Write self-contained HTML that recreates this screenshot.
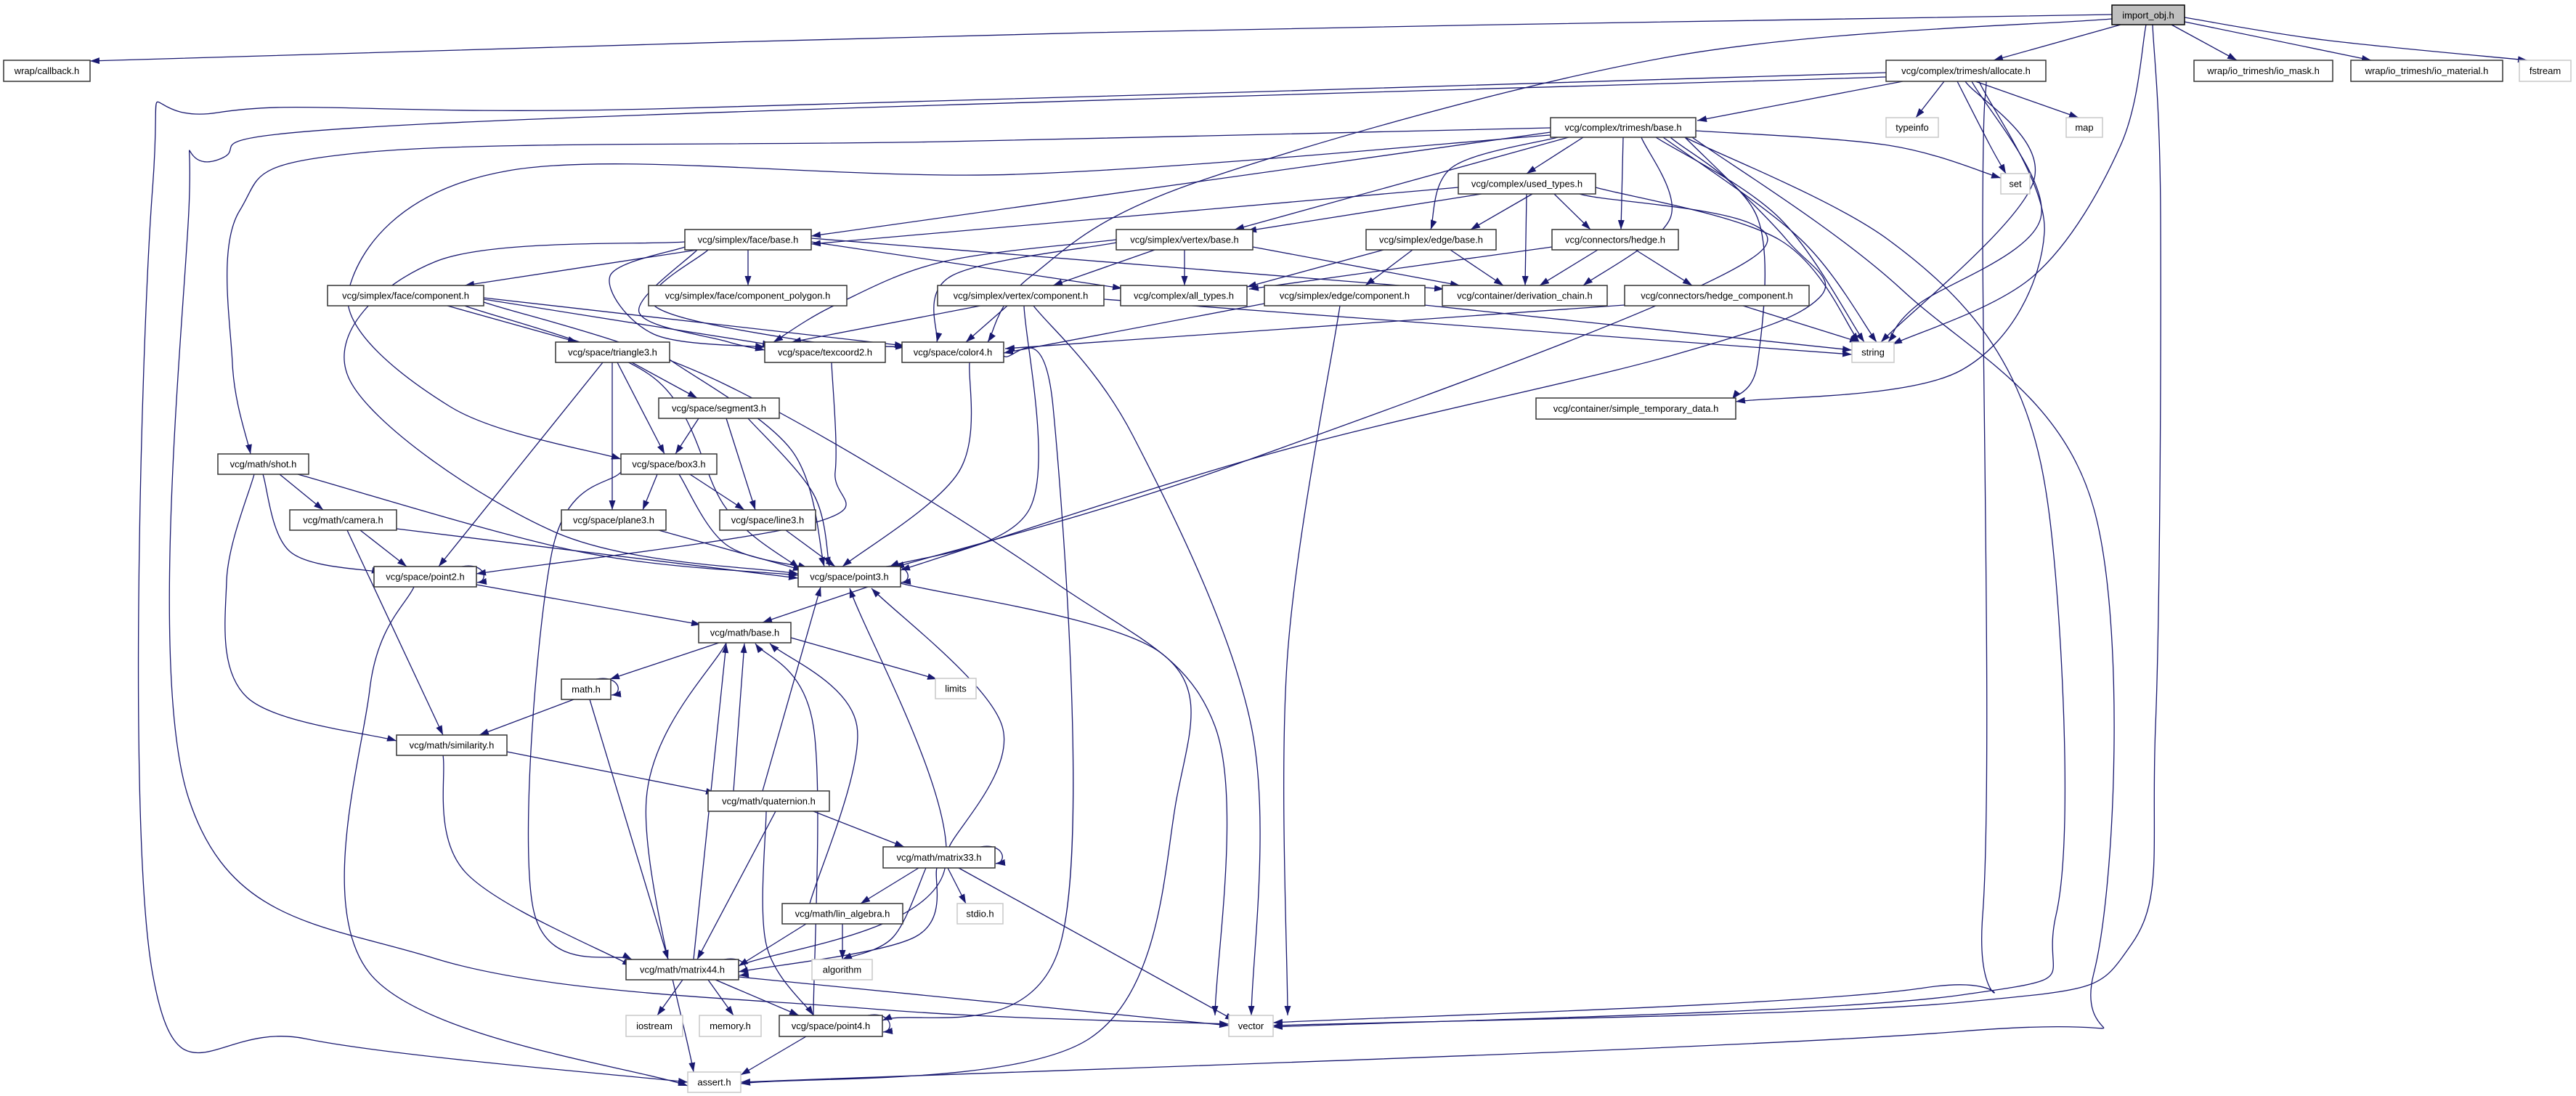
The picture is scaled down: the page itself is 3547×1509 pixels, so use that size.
<!DOCTYPE html>
<html><head><meta charset="utf-8">
<style>
html,body{margin:0;padding:0;background:#fff;}
svg{display:block;}
text{font-family:"Liberation Sans",sans-serif;font-size:13px;fill:#000;}
</style></head>
<body>
<svg id="g" xmlns="http://www.w3.org/2000/svg" width="3547" height="1509" viewBox="0 0 3547 1509">
<defs>
<marker id="a" viewBox="0 0 10 10" refX="10" refY="5" markerWidth="13" markerHeight="9" markerUnits="userSpaceOnUse" orient="auto" preserveAspectRatio="none"><path d="M0,0L10,5L0,10z" fill="#191970"/></marker>
</defs>
<rect width="3547" height="1509" fill="#fff"/>
<g id="edges" fill="none" stroke="#191970" stroke-width="1.3"></g>
<g id="nodes">
<rect x="2908" y="7" width="100" height="27" fill="#bfbfbf" stroke="#000" stroke-width="1.5"/><text x="2958" y="21" text-anchor="middle" dominant-baseline="central">import_obj.h</text>
<rect x="5" y="83" width="119" height="29" fill="#fff" stroke="#333" stroke-width="1.5"/><text x="64.5" y="97.5" text-anchor="middle" dominant-baseline="central">wrap/callback.h</text>
<rect x="2597" y="83" width="220" height="29" fill="#fff" stroke="#333" stroke-width="1.5"/><text x="2707" y="97.5" text-anchor="middle" dominant-baseline="central">vcg/complex/trimesh/allocate.h</text>
<rect x="3021" y="83" width="191" height="29" fill="#fff" stroke="#333" stroke-width="1.5"/><text x="3116.5" y="97.5" text-anchor="middle" dominant-baseline="central">wrap/io_trimesh/io_mask.h</text>
<rect x="3237" y="83" width="209" height="29" fill="#fff" stroke="#333" stroke-width="1.5"/><text x="3341.5" y="97.5" text-anchor="middle" dominant-baseline="central">wrap/io_trimesh/io_material.h</text>
<rect x="3469" y="83" width="71" height="29" fill="#fff" stroke="#c8c8c8" stroke-width="1.5"/><text x="3504.5" y="97.5" text-anchor="middle" dominant-baseline="central">fstream</text>
<rect x="2135" y="162" width="200" height="27" fill="#fff" stroke="#333" stroke-width="1.5"/><text x="2235" y="175.5" text-anchor="middle" dominant-baseline="central">vcg/complex/trimesh/base.h</text>
<rect x="2597" y="162" width="72" height="27" fill="#fff" stroke="#c8c8c8" stroke-width="1.5"/><text x="2633" y="175.5" text-anchor="middle" dominant-baseline="central">typeinfo</text>
<rect x="2845" y="162" width="50" height="27" fill="#fff" stroke="#c8c8c8" stroke-width="1.5"/><text x="2870" y="175.5" text-anchor="middle" dominant-baseline="central">map</text>
<rect x="2008" y="239" width="189" height="28" fill="#fff" stroke="#333" stroke-width="1.5"/><text x="2102.5" y="253" text-anchor="middle" dominant-baseline="central">vcg/complex/used_types.h</text>
<rect x="2755" y="239" width="40" height="28" fill="#fff" stroke="#c8c8c8" stroke-width="1.5"/><text x="2775" y="253" text-anchor="middle" dominant-baseline="central">set</text>
<rect x="943" y="316" width="174" height="28" fill="#fff" stroke="#333" stroke-width="1.5"/><text x="1030" y="330" text-anchor="middle" dominant-baseline="central">vcg/simplex/face/base.h</text>
<rect x="1537" y="316" width="188" height="28" fill="#fff" stroke="#333" stroke-width="1.5"/><text x="1631" y="330" text-anchor="middle" dominant-baseline="central">vcg/simplex/vertex/base.h</text>
<rect x="1881" y="316" width="179" height="28" fill="#fff" stroke="#333" stroke-width="1.5"/><text x="1970.5" y="330" text-anchor="middle" dominant-baseline="central">vcg/simplex/edge/base.h</text>
<rect x="2137" y="316" width="174" height="28" fill="#fff" stroke="#333" stroke-width="1.5"/><text x="2224" y="330" text-anchor="middle" dominant-baseline="central">vcg/connectors/hedge.h</text>
<rect x="451" y="393" width="215" height="28" fill="#fff" stroke="#333" stroke-width="1.5"/><text x="558.5" y="407" text-anchor="middle" dominant-baseline="central">vcg/simplex/face/component.h</text>
<rect x="893" y="393" width="273" height="28" fill="#fff" stroke="#333" stroke-width="1.5"/><text x="1029.5" y="407" text-anchor="middle" dominant-baseline="central">vcg/simplex/face/component_polygon.h</text>
<rect x="1291" y="393" width="229" height="28" fill="#fff" stroke="#333" stroke-width="1.5"/><text x="1405.5" y="407" text-anchor="middle" dominant-baseline="central">vcg/simplex/vertex/component.h</text>
<rect x="1543" y="393" width="174" height="28" fill="#fff" stroke="#333" stroke-width="1.5"/><text x="1630" y="407" text-anchor="middle" dominant-baseline="central">vcg/complex/all_types.h</text>
<rect x="1741" y="393" width="221" height="28" fill="#fff" stroke="#333" stroke-width="1.5"/><text x="1851.5" y="407" text-anchor="middle" dominant-baseline="central">vcg/simplex/edge/component.h</text>
<rect x="1986" y="393" width="227" height="28" fill="#fff" stroke="#333" stroke-width="1.5"/><text x="2099.5" y="407" text-anchor="middle" dominant-baseline="central">vcg/container/derivation_chain.h</text>
<rect x="2237" y="393" width="254" height="28" fill="#fff" stroke="#333" stroke-width="1.5"/><text x="2364" y="407" text-anchor="middle" dominant-baseline="central">vcg/connectors/hedge_component.h</text>
<rect x="765" y="471" width="157" height="28" fill="#fff" stroke="#333" stroke-width="1.5"/><text x="843.5" y="485" text-anchor="middle" dominant-baseline="central">vcg/space/triangle3.h</text>
<rect x="1053" y="471" width="166" height="28" fill="#fff" stroke="#333" stroke-width="1.5"/><text x="1136" y="485" text-anchor="middle" dominant-baseline="central">vcg/space/texcoord2.h</text>
<rect x="1242" y="471" width="140" height="28" fill="#fff" stroke="#333" stroke-width="1.5"/><text x="1312" y="485" text-anchor="middle" dominant-baseline="central">vcg/space/color4.h</text>
<rect x="2550" y="471" width="58" height="28" fill="#fff" stroke="#c8c8c8" stroke-width="1.5"/><text x="2579" y="485" text-anchor="middle" dominant-baseline="central">string</text>
<rect x="907" y="548" width="166" height="28" fill="#fff" stroke="#333" stroke-width="1.5"/><text x="990" y="562" text-anchor="middle" dominant-baseline="central">vcg/space/segment3.h</text>
<rect x="2115" y="548" width="275" height="29" fill="#fff" stroke="#333" stroke-width="1.5"/><text x="2252.5" y="562.5" text-anchor="middle" dominant-baseline="central">vcg/container/simple_temporary_data.h</text>
<rect x="300" y="625" width="125" height="28" fill="#fff" stroke="#333" stroke-width="1.5"/><text x="362.5" y="639" text-anchor="middle" dominant-baseline="central">vcg/math/shot.h</text>
<rect x="855" y="625" width="132" height="28" fill="#fff" stroke="#333" stroke-width="1.5"/><text x="921" y="639" text-anchor="middle" dominant-baseline="central">vcg/space/box3.h</text>
<rect x="399" y="702" width="147" height="28" fill="#fff" stroke="#333" stroke-width="1.5"/><text x="472.5" y="716" text-anchor="middle" dominant-baseline="central">vcg/math/camera.h</text>
<rect x="773" y="702" width="144" height="28" fill="#fff" stroke="#333" stroke-width="1.5"/><text x="845" y="716" text-anchor="middle" dominant-baseline="central">vcg/space/plane3.h</text>
<rect x="991" y="702" width="132" height="28" fill="#fff" stroke="#333" stroke-width="1.5"/><text x="1057" y="716" text-anchor="middle" dominant-baseline="central">vcg/space/line3.h</text>
<rect x="515" y="780" width="141" height="28" fill="#fff" stroke="#333" stroke-width="1.5"/><text x="585.5" y="794" text-anchor="middle" dominant-baseline="central">vcg/space/point2.h</text>
<rect x="1099" y="780" width="141" height="28" fill="#fff" stroke="#333" stroke-width="1.5"/><text x="1169.5" y="794" text-anchor="middle" dominant-baseline="central">vcg/space/point3.h</text>
<rect x="962" y="857" width="127" height="28" fill="#fff" stroke="#333" stroke-width="1.5"/><text x="1025.5" y="871" text-anchor="middle" dominant-baseline="central">vcg/math/base.h</text>
<rect x="773" y="935" width="68" height="28" fill="#fff" stroke="#333" stroke-width="1.5"/><text x="807" y="949" text-anchor="middle" dominant-baseline="central">math.h</text>
<rect x="1288" y="934" width="56" height="28" fill="#fff" stroke="#c8c8c8" stroke-width="1.5"/><text x="1316" y="948" text-anchor="middle" dominant-baseline="central">limits</text>
<rect x="546" y="1012" width="152" height="28" fill="#fff" stroke="#333" stroke-width="1.5"/><text x="622" y="1026" text-anchor="middle" dominant-baseline="central">vcg/math/similarity.h</text>
<rect x="975" y="1089" width="167" height="28" fill="#fff" stroke="#333" stroke-width="1.5"/><text x="1058.5" y="1103" text-anchor="middle" dominant-baseline="central">vcg/math/quaternion.h</text>
<rect x="1216" y="1166" width="154" height="29" fill="#fff" stroke="#333" stroke-width="1.5"/><text x="1293" y="1180.5" text-anchor="middle" dominant-baseline="central">vcg/math/matrix33.h</text>
<rect x="1077" y="1244" width="166" height="28" fill="#fff" stroke="#333" stroke-width="1.5"/><text x="1160" y="1258" text-anchor="middle" dominant-baseline="central">vcg/math/lin_algebra.h</text>
<rect x="1318" y="1244" width="63" height="28" fill="#fff" stroke="#c8c8c8" stroke-width="1.5"/><text x="1349.5" y="1258" text-anchor="middle" dominant-baseline="central">stdio.h</text>
<rect x="862" y="1321" width="155" height="28" fill="#fff" stroke="#333" stroke-width="1.5"/><text x="939.5" y="1335" text-anchor="middle" dominant-baseline="central">vcg/math/matrix44.h</text>
<rect x="1118" y="1321" width="83" height="28" fill="#fff" stroke="#c8c8c8" stroke-width="1.5"/><text x="1159.5" y="1335" text-anchor="middle" dominant-baseline="central">algorithm</text>
<rect x="862" y="1398" width="78" height="29" fill="#fff" stroke="#c8c8c8" stroke-width="1.5"/><text x="901" y="1412.5" text-anchor="middle" dominant-baseline="central">iostream</text>
<rect x="963" y="1398" width="85" height="29" fill="#fff" stroke="#c8c8c8" stroke-width="1.5"/><text x="1005.5" y="1412.5" text-anchor="middle" dominant-baseline="central">memory.h</text>
<rect x="1073" y="1398" width="142" height="29" fill="#fff" stroke="#333" stroke-width="1.5"/><text x="1144" y="1412.5" text-anchor="middle" dominant-baseline="central">vcg/space/point4.h</text>
<rect x="1692" y="1398" width="61" height="29" fill="#fff" stroke="#c8c8c8" stroke-width="1.5"/><text x="1722.5" y="1412.5" text-anchor="middle" dominant-baseline="central">vector</text>
<rect x="947" y="1476" width="73" height="28" fill="#fff" stroke="#c8c8c8" stroke-width="1.5"/><text x="983.5" y="1490" text-anchor="middle" dominant-baseline="central">assert.h</text>
</g>
</svg>
<script>
var E=[
[[2908,20],[1500,45],[124,84]],
[[2920,34],[2745,83]],
[[2990,34],[3080,83]],
[[3008,30],[3265,83]],
[[3008,24],[3200,55],[3480,83]],
[[2955,34],[2920,200],[2800,380],[2606,474]],
[[2964,34],[2975,300],[2968,1000],[2935,1300],[2700,1380],[1753,1412]],
[[2908,26],[2300,78],[1650,250],[1420,380],[1360,471]],
[[2620,112],[2337,166]],
[[2677,112],[2638,162]],
[[2720,112],[2862,162]],
[[2695,112],[2740,200],[2762,239]],
[[2706,112],[2800,250],[2590,471]],
[[2715,112],[2810,300],[2640,420],[2600,471]],
[[2725,112],[2815,320],[2700,510],[2390,553]],
[[2735,112],[2730,300],[2730,1260],[2650,1360],[1753,1408]],
[[2597,100],[900,150],[300,155],[210,260],[210,1340],[420,1430],[947,1490]],
[[2597,106],[600,170],[300,220],[260,290],[260,1100],[600,1320],[1200,1389],[1692,1410]],
[[2180,189],[2102,239]],
[[2160,189],[1700,316]],
[[2135,182],[1117,325]],
[[2145,189],[2000,230],[1970,316]],
[[2235,189],[2232,316]],
[[2260,189],[2300,300],[2180,393]],
[[2280,189],[2450,300],[2567,471]],
[[2290,189],[2480,330],[2584,471]],
[[2335,180],[2600,200],[2755,245]],
[[2300,189],[2420,300],[2420,500],[2385,550]],
[[2320,189],[2600,330],[2770,520],[2831,800],[2831,1260],[2700,1370],[1753,1414]],
[[2330,189],[2620,400],[2883,700],[2883,1340],[2700,1420],[1020,1490]],
[[2135,176],[1300,195],[500,210],[330,290],[320,500],[345,625]],
[[2135,186],[1400,240],[700,235],[480,400],[620,560],[855,632]],
[[2320,189],[2460,330],[2505,410],[2300,490],[1755,623],[1240,785]],
[[2008,258],[1117,336]],
[[2040,267],[1717,318]],
[[2110,267],[2025,316]],
[[2102,267],[2100,393]],
[[2140,267],[2190,316]],
[[2197,258],[2450,330],[2560,471]],
[[2175,267],[2420,350],[1700,640],[1232,781]],
[[960,344],[640,393]],
[[1030,344],[1030,393]],
[[1117,333],[1545,397]],
[[1117,328],[1988,398]],
[[943,340],[840,380],[900,460],[1053,478]],
[[960,344],[880,430],[1000,470],[1053,482]],
[[975,344],[900,420],[1100,468],[1246,478]],
[[943,333],[600,360],[480,520],[765,733],[1099,790]],
[[1590,344],[1450,393]],
[[1631,344],[1631,393]],
[[1725,340],[2010,393]],
[[1537,330],[1300,360],[1150,420],[1065,471]],
[[1537,334],[1310,380],[1290,471]],
[[1905,344],[1717,395]],
[[1945,344],[1880,393]],
[[1997,344],[2070,393]],
[[2137,340],[1720,398]],
[[2200,344],[2120,393]],
[[2252,344],[2330,393]],
[[616,421],[795,471]],
[[666,412],[1063,475]],
[[666,410],[1245,476]],
[[640,421],[900,520],[1000,700],[1100,782]],
[[666,416],[1000,530],[1450,800],[1673,1000],[1673,1398]],
[[1350,421],[1090,471]],
[[1387,421],[1330,471]],
[[1410,421],[1418,700],[1225,780]],
[[1423,421],[1560,600],[1723,1000],[1723,1398]],
[[1520,412],[2550,488]],
[[1741,418],[1382,486]],
[[1845,421],[1773,900],[1773,1398]],
[[1961,420],[2550,482]],
[[2237,420],[1384,480]],
[[2400,421],[2560,471]],
[[870,499],[960,548]],
[[850,499],[915,625]],
[[843,499],[843,702]],
[[830,499],[604,780]],
[[922,495],[1090,620],[1135,780]],
[[1145,499],[1150,650],[1120,720],[656,790]],
[[1335,499],[1320,650],[1160,780]],
[[1382,490],[1450,560],[1460,1300],[1215,1405]],
[[962,576],[930,625]],
[[1000,576],[1040,702]],
[[1030,576],[1120,680],[1142,780]],
[[905,653],[885,702]],
[[950,653],[1025,702]],
[[935,653],[1000,750],[1112,782]],
[[855,650],[760,760],[734,1250],[870,1321]],
[[385,653],[445,702]],
[[362,653],[400,760],[525,788]],
[[410,653],[800,760],[1099,792]],
[[350,653],[312,800],[340,960],[546,1020]],
[[496,730],[560,780]],
[[546,728],[1099,796]],
[[478,730],[610,1012]],
[[907,730],[1105,785]],
[[1082,730],[1150,780]],
[[656,805],[965,860]],
[[570,808],[509,950],[509,1340],[947,1495]],
[[1195,808],[1050,857]],
[[1240,803],[1600,900],[1620,1100],[1500,1430],[1020,1492]],
[[990,885],[840,935]],
[[1089,878],[1290,935]],
[[790,963],[660,1012]],
[[812,963],[920,1321]],
[[698,1035],[985,1092]],
[[610,1040],[640,1200],[870,1330]],
[[1050,1089],[1130,808]],
[[1010,1089],[1025,886]],
[[1120,1117],[1245,1166]],
[[1068,1117],[960,1321]],
[[1055,1117],[1055,1300],[1120,1398]],
[[1307,1166],[1380,1000],[1200,810]],
[[1265,1195],[1185,1244]],
[[1305,1195],[1330,1244]],
[[1320,1195],[1700,1405]],
[[1290,1195],[1260,1290],[1017,1338]],
[[1275,1195],[1230,1290],[1160,1321]],
[[1110,1272],[1017,1330]],
[[1160,1272],[1160,1321]],
[[1115,1244],[1180,1000],[1060,886]],
[[940,1349],[905,1398]],
[[975,1349],[1010,1398]],
[[985,1349],[1100,1398]],
[[1017,1345],[1692,1412]],
[[955,1321],[1000,886]],
[[1017,1330],[1300,1200],[1170,810]],
[[1110,1427],[1020,1480]],
[[1120,1398],[1120,1000],[1040,886]],
[[1000,885],[890,1100],[955,1476]]
];
var L=[[656,780,808],[1240,780,808],[841,935,963],[1370,1166,1195],[1017,1321,1349],[1215,1398,1427]];
function P(p){if(p.length==2)return "M"+p[0]+" L"+p[1];var d="M"+p[0];for(var i=0;i<p.length-1;i++){var a=p[i-1]||p[i],b=p[i],c=p[i+1],e=p[i+2]||c;var c1=[b[0]+(c[0]-a[0])/6,b[1]+(c[1]-a[1])/6],c2=[c[0]-(e[0]-b[0])/6,c[1]-(e[1]-b[1])/6];d+=" C"+c1+" "+c2+" "+c;}return d;}
var g=document.getElementById("edges"),ns="http://www.w3.org/2000/svg";
function add(d){var p=document.createElementNS(ns,"path");p.setAttribute("d",d);p.setAttribute("marker-end","url(#a)");g.appendChild(p);}
E.forEach(function(e){add(P(e));});
L.forEach(function(l){var x=l[0],y1=l[1],y2=l[2];add("M"+(x-20)+","+y1+" C"+(x+12)+","+(y1-6)+" "+(x+18)+","+(y2-8)+" "+(x+1)+","+(y2-6));});
</script>
</body></html>
